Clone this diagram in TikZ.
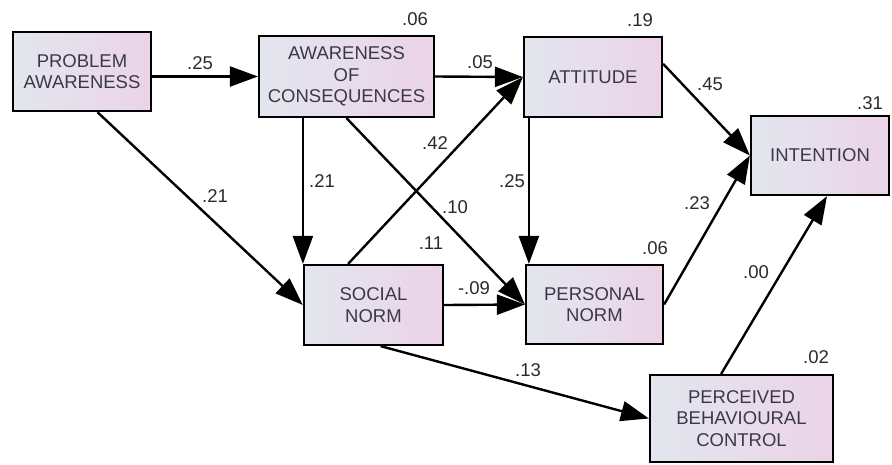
\documentclass[tikz,border=0pt]{standalone}
\usepackage{fontspec}
\setmainfont{Liberation Sans}
\usetikzlibrary{arrows.meta,calc}
\definecolor{boxL}{HTML}{E3E6EE}
\definecolor{boxR}{HTML}{EBD3E8}
\definecolor{txt}{HTML}{3A3848}
\definecolor{lbl}{HTML}{2A2A2A}
\tikzset{
 var/.style={draw=black, line width=2.2pt, left color=boxL, right color=boxR, inner sep=0pt, align=center, text=txt, font=\fontsize{18.5}{21.5}\selectfont},
 pth/.style={line width=2.4pt, -{Triangle[length=28pt,width=20pt]}},
 coef/.style={font=\fontsize{18.5}{20}\selectfont, text=lbl, inner sep=0pt},
}
\begin{document}
\begin{tikzpicture}[x=1pt,y=-1pt]
\useasboundingbox (0,0) rectangle (892,464);
% boxes
\node[var, minimum width=138pt, minimum height=79pt] (PA) at (82,71.5) {PROBLEM\\AWARENESS};
\node[var, minimum width=175pt, minimum height=81pt] (AoC) at (346.5,76.5) {AWARENESS\\OF\\CONSEQUENCES};
\node[var, minimum width=138pt, minimum height=80pt] (Att) at (593,77) {ATTITUDE};
\node[var, minimum width=138pt, minimum height=79pt] (Int) at (820,155.5) {INTENTION};
\node[var, minimum width=139pt, minimum height=80pt] (SN) at (373.5,305) {SOCIAL\\NORM};
\node[var, minimum width=137pt, minimum height=79pt] (PN) at (594.5,304.5) {PERSONAL\\NORM};
\node[var, minimum width=183pt, minimum height=87pt] (PBC) at (741.5,418.5) {PERCEIVED\\BEHAVIOURAL\\CONTROL};
% R-squared
\node[coef] (r1) at (415,19) {.06};
\node[coef] (r2) at (640,20) {.19};
\node[coef] (r3) at (870,103) {.31};
\node[coef] (r4) at (431,243) {.11};
\node[coef] (r5) at (655,248) {.06};
\node[coef] (r6) at (816,357) {.02};
% paths
\draw[pth] (PA.east |- AoC.west) -- (AoC.west);
\draw[pth] ($(PA.south west)!0.61!(PA.south east)$) -- (SN.west);
\draw[pth] (AoC.south -| SN.north west) -- (SN.north west);
\draw[pth] (AoC.south) -- (PN.west);
\draw[pth] (AoC.east) -- (Att.west);
\draw[pth] ($(SN.north west)!0.32!(SN.north east)$) -- (Att.west);
\draw[pth] (SN.east) -- (PN.west);
\coordinate (attb) at ($(Att.south west)+(6,0)$);
\draw[pth] (attb) -- (attb |- PN.north);
\draw[pth] ($(Att.north east)!0.34!(Att.south east)$) -- (Int.west);
\draw[pth] (PN.east) -- (Int.west);
\draw[pth] ($(PBC.north west)!0.39!(PBC.north east)$) -- ($(Int.south west)!0.55!(Int.south east)$);
\draw[pth] ($(SN.south west)!0.55!(SN.south east)$) -- (PBC.west);
% coefficients
\node[coef] (c1) at (200,63) {.25};
\node[coef] (c2) at (215,196) {.21};
\node[coef] (c3) at (322,181) {.21};
\node[coef] (c4) at (435,143) {.42};
\node[coef] (c5) at (480,62) {.05};
\node[coef] (c6) at (455,207) {.10};
\node[coef] (c7) at (710,84) {.45};
\node[coef] (c8) at (512,181) {.25};
\node[coef] (c9) at (697,203) {.23};
\node[coef] (c10) at (474,288) {-.09};
\node[coef] (c11) at (756,272) {.00};
\node[coef] (c12) at (528,370) {.13};
\end{tikzpicture}
\end{document}
